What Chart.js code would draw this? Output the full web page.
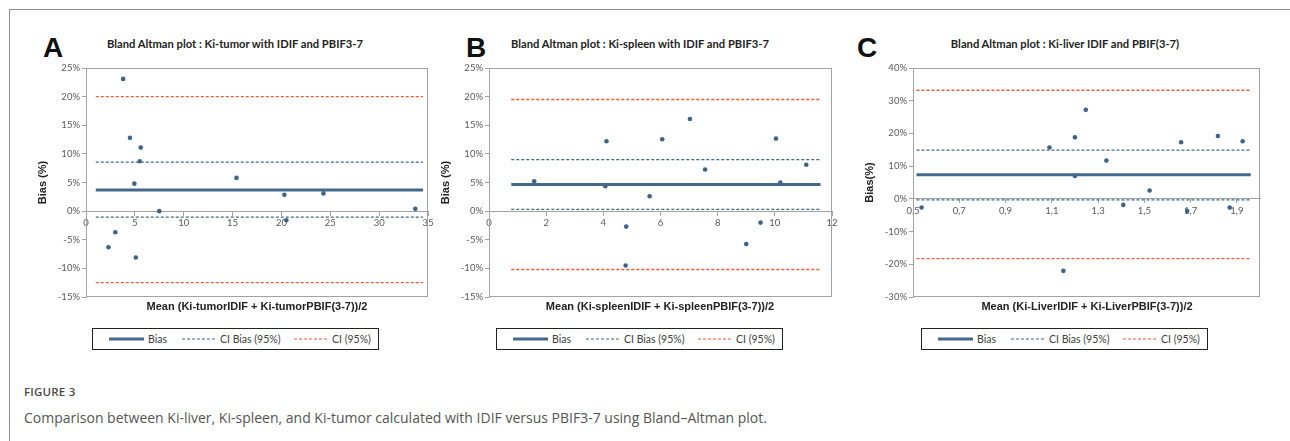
<!DOCTYPE html>
<html>
<head>
<meta charset="utf-8">
<script src="https://cdn.jsdelivr.net/npm/chart.js@4.4.1/dist/chart.umd.min.js"></script>
<style>
body{ margin:0; width:1290px; height:441px; background:#fff; position:relative; overflow:hidden; }
#frame{ position:absolute; left:9px; top:9px; width:1300px; height:450px; border-top:1px solid #8c8c8c; border-left:1px solid #8c8c8c; }
.letter{ position:absolute; font:bold 28px "Liberation Sans", Arial, sans-serif; color:#111; line-height:28px; }
.ttl{ position:absolute; font:bold 11.2px Lato, sans-serif; color:#222; transform:translateX(-50%); white-space:nowrap; line-height:12px; }
.xt{ position:absolute; font:bold 11px "Liberation Sans", Arial, sans-serif; color:#222; transform:translateX(-50%); white-space:nowrap; line-height:12px; }
.cv{ position:absolute; }
.lg{ position:absolute; top:328px; width:285px; height:20px; border:1.5px solid #222; }
.lg svg{ position:absolute; left:0; top:0; }
.lg span{ position:absolute; top:4px; font:10.5px Lato, sans-serif; color:#404040; line-height:12px; white-space:nowrap; }
#fig{ position:absolute; left:24px; top:384px; font:600 11.5px "Open Sans", sans-serif; color:#4a4a4a; letter-spacing:0.2px; }
#cap{ position:absolute; left:24px; top:408px; font:14px "Open Sans", sans-serif; color:#555; white-space:nowrap; }
</style>
</head>
<body>
<div id="frame"></div>

<div class="letter" style="left:43px;top:34px">A</div>
<div class="letter" style="left:466px;top:34px">B</div>
<div class="letter" style="left:857px;top:34px">C</div>

<div class="ttl" style="left:235px;top:38px">Bland Altman plot : Ki-tumor with IDIF and PBIF3-7</div>
<div class="ttl" style="left:640px;top:38px">Bland Altman plot : Ki-spleen with IDIF and PBIF3-7</div>
<div class="ttl" style="left:1065px;top:38px">Bland Altman plot : Ki-liver IDIF and PBIF(3-7)</div>

<canvas id="chartA" class="cv" width="402" height="249" style="left:36px;top:58px"></canvas>
<canvas id="chartB" class="cv" width="403" height="249" style="left:439px;top:58px"></canvas>
<canvas id="chartC" class="cv" width="407" height="249" style="left:863px;top:58px"></canvas>

<div class="xt" style="left:257px;top:300px">Mean (Ki-tumorIDIF + Ki-tumorPBIF(3-7))/2</div>
<div class="xt" style="left:660px;top:300px">Mean (Ki-spleenIDIF + Ki-spleenPBIF(3-7))/2</div>
<div class="xt" style="left:1087px;top:300px">Mean (Ki-LiverIDIF + Ki-LiverPBIF(3-7))/2</div>

<div id="legA" class="lg" style="left:92px"></div>
<div id="legB" class="lg" style="left:496px"></div>
<div id="legC" class="lg" style="left:921px"></div>

<div id="fig">FIGURE 3</div>
<div id="cap">Comparison between Ki-liver, Ki-spleen, and Ki-tumor calculated with IDIF versus PBIF3-7 using Bland–Altman plot.</div>

<script>
//panel A : Ki-tumor
var tumorMean = [3.8, 4.5, 5.6, 5.5, 15.4, 4.95, 20.3, 24.3, 33.7, 7.5, 20.5, 3.0, 2.3, 5.1];
var tumorBias = [23.1, 12.8, 11.1, 8.7, 5.8, 4.8, 2.85, 3.1, 0.4, 0.0, -1.6, -3.7, -6.3, -8.1];
var tumorMeanBias = 3.7;
var tumorCIBias = [8.55, -1.05];
var tumorCI = [20.0, -12.5];
var tumorSpan = [1.0, 34.5];

//panel B : Ki-spleen
var spleenMean = [1.58, 4.07, 4.11, 5.62, 6.06, 7.03, 7.56, 10.04, 10.19, 11.1, 4.8, 9.5, 9.0, 4.78];
var spleenBias = [5.2, 4.36, 12.2, 2.6, 12.56, 16.1, 7.27, 12.67, 5.0, 8.1, -2.7, -2.0, -5.76, -9.5];
var spleenMeanBias = 4.65;
var spleenCIBias = [9.0, 0.3];
var spleenCI = [19.5, -10.2];
var spleenSpan = [0.78, 11.6];

//panel C : Ki-liver
var liverMean = [1.09, 1.2, 1.247, 1.336, 1.659, 1.818, 1.925, 1.2, 1.523, 1.409, 1.685, 1.869, 0.537, 1.15];
var liverBias = [15.7, 18.8, 27.2, 11.7, 17.3, 19.2, 17.6, 7.0, 2.55, -1.84, -3.7, -2.65, -2.65, -22.0];
var liverMeanBias = 7.35;
var liverCIBias = [14.9, -0.3];
var liverCI = [33.2, -18.3];
var liverSpan = [0.515, 1.96];

//tick labels
var tumorXTicks = [0, 5, 10, 15, 20, 25, 30, 35];
var spleenXTicks = [0, 2, 4, 6, 8, 10, 12];
var liverXTicks = [0.5, 0.7, 0.9, 1.1, 1.3, 1.5, 1.7, 1.9];
var pctTicks25 = [-15, -10, -5, 0, 5, 10, 15, 20, 25];
var pctTicks40 = [-30, -20, -10, 0, 10, 20, 30, 40];

var legendNames = ["Bias", "CI Bias (95%)", "CI (95%)"];

//colors
var BLUE = "#44698b", DOT = "#3d6588", RED = "#f25a38", AXIS = "#a3a3a3", TXT = "#595959";

//draw a gray frame round the plot area
var plotFrame = {
    id: "plotFrame",
    beforeDatasetsDraw: function( chart ){
        var a = chart.chartArea, c = chart.ctx;
        c.save();
        c.strokeStyle = AXIS;
        c.lineWidth = 1;
        c.strokeRect( a.left + 0.5, a.top + 0.5, a.width - 1, a.height - 1 );
        c.restore();
    }
};

//horizontal reference line
function hline( val, span, color, width, dash ){
    return {
        type: "line",
        data: [ {x: span[0], y: val}, {x: span[1], y: val} ],
        borderColor: color,
        borderWidth: width,
        borderDash: dash,
        pointRadius: 0,
        fill: false
    };
}

function makeChart( id, xs, ys, meanBias, ciBias, ci, span, xTicks, yTicks, yTitle, decimalComma ){
    var pts = [];
    for( var i = 0; i < xs.length; i++ )
        pts.push( {x: xs[i], y: ys[i]} );

    return new Chart( document.getElementById(id).getContext("2d"), {
        type: "scatter",
        data: {
            datasets: [
                hline( ci[0], span, RED, 1.3, [3, 2] ),
                hline( ci[1], span, RED, 1.3, [3, 2] ),
                hline( ciBias[0], span, BLUE, 1.3, [3, 2] ),
                hline( ciBias[1], span, BLUE, 1.3, [3, 2] ),
                hline( meanBias, span, BLUE, 3, [] ),
                {
                    type: "scatter",
                    data: pts,
                    backgroundColor: DOT,
                    borderWidth: 0,
                    pointRadius: 2.3
                }
            ]
        },
        options: {
            responsive: false,
            animation: false,
            devicePixelRatio: 1,
            layout: { padding: { top: 10, right: 10, bottom: 10, left: 0 } },
            plugins: { legend: { display: false }, tooltip: { enabled: false } },
            scales: {
                x: {
                    type: "linear",
                    position: { y: 0 },
                    min: xTicks[0],
                    max: decimalComma ? 2.0 : xTicks[xTicks.length - 1],
                    afterBuildTicks: function( s ){ s.ticks = xTicks.map(function(v){ return {value: v}; }); },
                    border: { color: AXIS, width: 1 },
                    grid: { drawOnChartArea: false, color: AXIS, tickLength: 4 },
                    ticks: {
                        color: TXT,
                        font: { family: "Lato", size: 9.5 },
                        padding: 2,
                        maxRotation: 0,
                        callback: function( v ){
                            return decimalComma ? v.toFixed(1).replace(".", ",") : String(v);
                        }
                    }
                },
                y: {
                    type: "linear",
                    position: "left",
                    min: yTicks[0],
                    max: yTicks[yTicks.length - 1],
                    afterBuildTicks: function( s ){ s.ticks = yTicks.map(function(v){ return {value: v}; }); },
                    afterFit: function( s ){ s.width = 50; },
                    border: { color: AXIS, width: 1 },
                    grid: { drawOnChartArea: false, color: AXIS, tickLength: 4 },
                    ticks: {
                        color: TXT,
                        font: { family: "Lato", size: 9.5 },
                        padding: 2,
                        callback: function( v ){ return v + "%"; }
                    },
                    title: {
                        display: true,
                        text: yTitle,
                        color: "#222",
                        font: { family: "Liberation Sans", size: 11, weight: "bold" },
                        padding: { top: 0, bottom: 0 }
                    }
                }
            }
        },
        plugins: [ plotFrame ]
    });
}

//legend box made of plain elements
function makeLegend( id ){
    var box = document.getElementById(id);
    var svg = '<svg width="285" height="20">' +
        '<line x1="16" y1="10" x2="51" y2="10" stroke="' + BLUE + '" stroke-width="3"/>' +
        '<line x1="89" y1="10" x2="124" y2="10" stroke="' + BLUE + '" stroke-width="1.2" stroke-dasharray="3,2"/>' +
        '<line x1="201" y1="10" x2="236" y2="10" stroke="' + RED + '" stroke-width="1.2" stroke-dasharray="3,2"/>' +
        '</svg>';
    box.innerHTML = svg +
        '<span style="left:55px">' + legendNames[0] + '</span>' +
        '<span style="left:127px">' + legendNames[1] + '</span>' +
        '<span style="left:239px">' + legendNames[2] + '</span>';
}

makeChart( "chartA", tumorMean, tumorBias, tumorMeanBias, tumorCIBias, tumorCI, tumorSpan, tumorXTicks, pctTicks25, "Bias (%)", false );
makeChart( "chartB", spleenMean, spleenBias, spleenMeanBias, spleenCIBias, spleenCI, spleenSpan, spleenXTicks, pctTicks25, "Bias (%)", false );
makeChart( "chartC", liverMean, liverBias, liverMeanBias, liverCIBias, liverCI, liverSpan, liverXTicks, pctTicks40, "Bias(%)", true );

makeLegend( "legA" );
makeLegend( "legB" );
makeLegend( "legC" );
</script>
</body>
</html>
